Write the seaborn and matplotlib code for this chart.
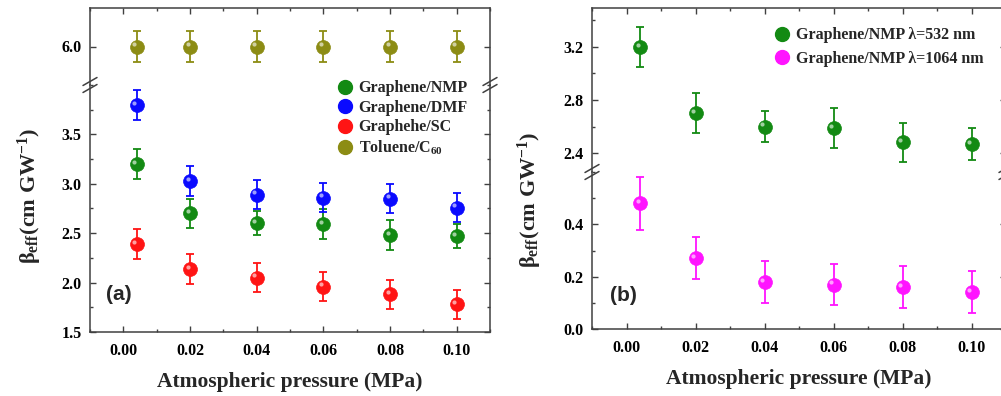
import numpy as np
import pandas as pd
import seaborn as sns
from matplotlib import pyplot as plt
from matplotlib.lines import Line2D
from matplotlib.ticker import MultipleLocator, FixedLocator, FormatStrFormatter
from matplotlib.transforms import offset_copy

# data
pressure = [0.004, 0.02, 0.04, 0.06, 0.08, 0.10]
nmp = [3.20, 2.70, 2.60, 2.59, 2.48, 2.47]
nmp_err = [0.15, 0.15, 0.12, 0.15, 0.15, 0.12]
dmf = [3.80, 3.03, 2.89, 2.86, 2.85, 2.76]
dmf_err = [0.15, 0.15, 0.15, 0.15, 0.15, 0.15]
sc = [2.39, 2.14, 2.05, 1.96, 1.88, 1.78]
sc_err = [0.15, 0.15, 0.15, 0.15, 0.15, 0.15]
toluene = [6.0, 6.0, 6.0, 6.0, 6.0, 6.0]
toluene_err = [0.16, 0.16, 0.16, 0.16, 0.16, 0.16]
nmp_1064 = [0.48, 0.27, 0.18, 0.17, 0.16, 0.14]
nmp_1064_err = [0.10, 0.08, 0.08, 0.08, 0.08, 0.08]

x_ticks = [0.00, 0.02, 0.04, 0.06, 0.08, 0.10]

labels_a = ["Graphene/NMP", "Graphene/DMF", "Graphehe/SC", "Toluene/C$_{60}$"]
labels_b = ["Graphene/NMP \u03bb=532 nm", "Graphene/NMP \u03bb=1064 nm"]

GREEN = "#138a13"
BLUE = "#0a0aff"
RED = "#ff1414"
OLIVE = "#8c8c14"
MAGENTA = "#ff14ff"

sns.set_theme(style="ticks")
plt.rcParams.update({
    "font.family": ["Liberation Serif", "DejaVu Serif"],
    "font.weight": "bold",
    "mathtext.fontset": "custom",
    "mathtext.rm": "Liberation Serif:bold",
    "mathtext.it": "Liberation Serif:bold",
    "mathtext.bf": "Liberation Serif:bold",
    "axes.edgecolor": "#404040",
    "axes.linewidth": 1.1,
    "xtick.direction": "in",
    "ytick.direction": "in",
    "xtick.color": "#404040",
    "ytick.color": "#404040",
    "xtick.labelcolor": "black",
    "ytick.labelcolor": "black",
})

W, H = 1001, 396
fig = plt.figure(figsize=(W / 100, H / 100), dpi=100)


def fpos(x0, x1, y0, y1):
    # pixel box -> figure fraction [left, bottom, width, height]
    return [x0 / W, 1 - y1 / H, (x1 - x0) / W, (y1 - y0) / H]


ax_a_top = fig.add_axes(fpos(90, 490, 8, 85))
ax_a_bot = fig.add_axes(fpos(90, 490, 85, 332))
ax_b_top = fig.add_axes(fpos(592, 1006, 8, 172))
ax_b_bot = fig.add_axes(fpos(592, 1006, 172, 329))


def draw_series(ax, x, y, err, color):
    ax.errorbar(x, y, yerr=err, fmt="none", ecolor=color, elinewidth=1.3,
                capsize=3.2, capthick=1.3, zorder=2)
    df = pd.DataFrame({"x": x, "y": y})
    sns.scatterplot(data=df, x="x", y="y", ax=ax, color=color, s=100,
                    edgecolor=color, linewidth=0.5, zorder=3, legend=False)
    # small highlight (upper left) to hint at the shaded ball markers
    shine = offset_copy(ax.transData, fig=fig, x=-1.6, y=1.6, units="points")
    ax.scatter(x, y, s=9, color="white", alpha=0.6, linewidths=0,
               zorder=4, transform=shine)


for ax in (ax_a_top, ax_a_bot):
    for y, e, c in [(nmp, nmp_err, GREEN), (dmf, dmf_err, BLUE),
                    (sc, sc_err, RED), (toluene, toluene_err, OLIVE)]:
        draw_series(ax, pressure, y, e, c)

for ax in (ax_b_top, ax_b_bot):
    draw_series(ax, pressure, nmp, nmp_err, GREEN)
    draw_series(ax, pressure, nmp_1064, nmp_1064_err, MAGENTA)

ax_a_top.set_ylim(5.61, 6.39)
ax_a_bot.set_ylim(1.5, 4.0)
ax_b_top.set_ylim(2.257, 3.494)
ax_b_bot.set_ylim(0.0, 0.6)

ax_a_top.yaxis.set_major_locator(FixedLocator([6.0]))
ax_a_bot.yaxis.set_major_locator(FixedLocator([1.5, 2.0, 2.5, 3.0, 3.5]))
ax_a_bot.yaxis.set_minor_locator(MultipleLocator(0.25))
ax_b_top.yaxis.set_major_locator(FixedLocator([2.4, 2.8, 3.2]))
ax_b_top.yaxis.set_minor_locator(MultipleLocator(0.2))
ax_b_bot.yaxis.set_major_locator(FixedLocator([0.0, 0.2, 0.4]))
ax_b_bot.yaxis.set_minor_locator(MultipleLocator(0.1))

for top, bot in ((ax_a_top, ax_a_bot), (ax_b_top, ax_b_bot)):
    for ax in (top, bot):
        ax.set_xlim(-0.01, 0.11)
        ax.xaxis.set_major_locator(FixedLocator(x_ticks))
        ax.xaxis.set_minor_locator(MultipleLocator(0.01))
        ax.yaxis.set_major_formatter(FormatStrFormatter("%.1f"))
        ax.set_xlabel("")
        ax.set_ylabel("")
        ax.tick_params(which="major", length=4.5, width=1.0, labelsize=11.5,
                       left=True, right=True, top=True, bottom=True)
        ax.tick_params(which="minor", length=2.5, width=1.0,
                       left=True, right=True, top=True, bottom=True)
        ax.tick_params(axis="y", pad=6)
        for lab in ax.get_yticklabels():
            lab.set_fontweight("bold")
    top.spines["bottom"].set_visible(False)
    top.tick_params(which="both", bottom=False, labelbottom=False)
    bot.spines["top"].set_visible(False)
    bot.tick_params(which="both", top=False)
    bot.tick_params(axis="x", pad=8)
    bot.set_xticklabels([f"{v:.2f}" for v in x_ticks], fontweight="bold")
    bot.set_xlabel("Atmospheric pressure (MPa)", fontsize=15.5,
                   fontweight="bold", labelpad=9)

    # break marks on both side spines
    p = bot.get_position()
    yj = p.y1
    for xs in (p.x0, p.x1):
        for dy in (3.5, -3.5):
            fig.add_artist(Line2D(
                [xs - 7 / W, xs + 7 / W],
                [yj + (dy - 4) / H, yj + (dy + 4) / H],
                color="#404040", lw=1.1, transform=fig.transFigure))

ax_a_bot.text(0.04, 0.15, "(a)", transform=ax_a_bot.transAxes,
              fontsize=15, fontweight="bold", family="Liberation Sans",
              va="center", ha="left")
ax_b_bot.text(0.043, 0.215, "(b)", transform=ax_b_bot.transAxes,
              fontsize=15, fontweight="bold", family="Liberation Sans",
              va="center", ha="left")

ylab = "\u03b2$_{\\mathrm{eff}}$(cm GW$^{\\mathrm{-1}}$)"
fig.text(30 / W, 1 - 196 / H, ylab, rotation=90, fontsize=16,
         fontweight="bold", ha="center", va="center")
fig.text(530 / W, 1 - 200 / H, ylab, rotation=90, fontsize=16,
         fontweight="bold", ha="center", va="center")


def handle(color):
    return Line2D([], [], ls="none", marker="o", markersize=10,
                  markerfacecolor=color, markeredgecolor=color)


fig.legend([handle(c) for c in (GREEN, BLUE, RED, OLIVE)], labels_a,
           loc="upper left", bbox_to_anchor=(321 / W, 1 - 66 / H),
           frameon=False, prop={"size": 11.5, "weight": "bold"},
           handletextpad=0.25, labelspacing=0.22, handlelength=1.2)
fig.legend([handle(c) for c in (GREEN, MAGENTA)], labels_b,
           loc="upper left", bbox_to_anchor=(758 / W, 1 - 13 / H),
           frameon=False, prop={"size": 11.5, "weight": "bold"},
           handletextpad=0.25, labelspacing=0.45, handlelength=1.2)

fig.savefig("out.png", dpi=100)
